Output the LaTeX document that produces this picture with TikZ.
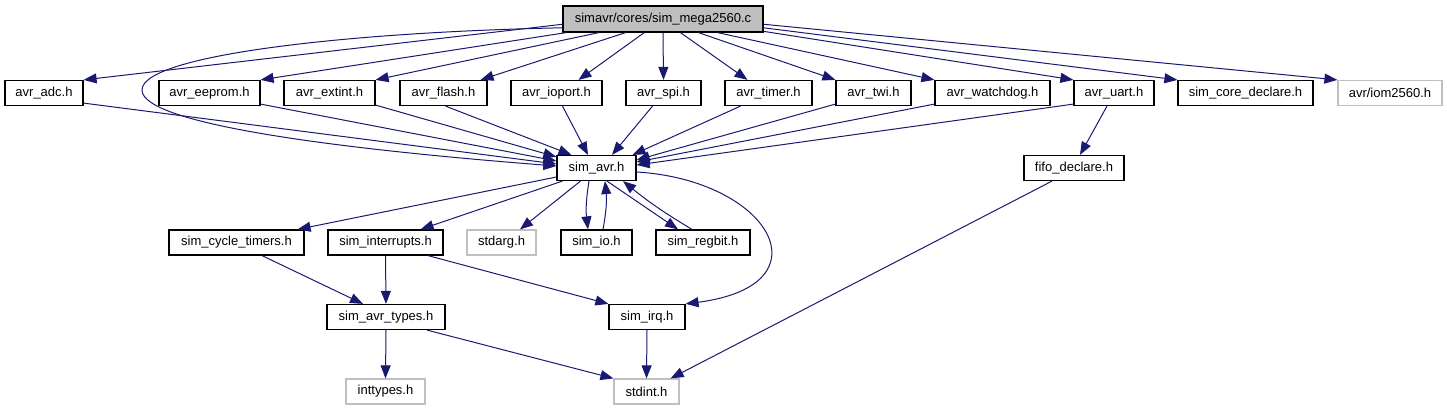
\documentclass[tikz,border=0pt]{standalone}
\usepackage{fontspec}
\setmainfont{Liberation Sans}
\usetikzlibrary{arrows.meta, calc}
\definecolor{cEdge}{RGB}{25,25,112}
\definecolor{cGrey}{RGB}{191,191,191}
\tikzset{
	hdr/.style    ={rectangle, draw=black, line width=0.6pt, minimum height=12.5pt, inner sep=0pt, fill=white, font=\fontsize{6.5}{7.5}\selectfont},
	sysh/.style   ={hdr, draw=cGrey},
	srcfile/.style={hdr, fill=cGrey},
	inc/.style    ={-{Triangle[length=6.5pt,width=5pt]}, cEdge, line width=0.5pt},
}
\begin{document}
\begin{tikzpicture}[x=0.5pt, y=-0.5pt]
	\useasboundingbox (0,0) rectangle (1447,411);
	% source file
	\node[srcfile, minimum width=100pt, minimum height=13pt] (root) at (663,19) {simavr/cores/sim\_mega2560.c};
	% first row of headers
	\node[hdr, minimum width=39pt]   (adc)      at (44,93)     {avr\_adc.h};
	\node[hdr, minimum width=50.5pt] (eeprom)   at (209.5,93)  {avr\_eeprom.h};
	\node[hdr, minimum width=45.5pt] (extint)   at (329.5,93)  {avr\_extint.h};
	\node[hdr, minimum width=43.5pt] (flash)    at (443.5,93)  {avr\_flash.h};
	\node[hdr, minimum width=45.5pt] (ioport)   at (556.5,93)  {avr\_ioport.h};
	\node[hdr, minimum width=37.5pt] (spi)      at (663.5,93)  {avr\_spi.h};
	\node[hdr, minimum width=43.5pt] (timer)    at (768.5,93)  {avr\_timer.h};
	\node[hdr, minimum width=37.5pt] (twi)      at (873.5,93)  {avr\_twi.h};
	\node[hdr, minimum width=57.5pt] (watchdog) at (992.5,93)  {avr\_watchdog.h};
	\node[hdr, minimum width=40pt]   (uart)     at (1114,93)   {avr\_uart.h};
	\node[hdr, minimum width=67.5pt] (coredecl) at (1245.5,93) {sim\_core\_declare.h};
	\node[sysh, minimum width=52pt]  (iom)      at (1390,93)   {avr/iom2560.h};
	% second row
	\node[hdr, minimum width=39.5pt] (avr)  at (596.5,168) {sim\_avr.h};
	\node[hdr, minimum width=50pt]   (fifo) at (1074,168)  {fifo\_declare.h};
	% third row
	\node[hdr, minimum width=67.5pt] (cycle)  at (236.5,242.5) {sim\_cycle\_timers.h};
	\node[hdr, minimum width=57.5pt] (intr)   at (385.5,242.5) {sim\_interrupts.h};
	\node[sysh, minimum width=34.5pt](stdarg) at (501.5,242.5) {stdarg.h};
	\node[hdr, minimum width=35.5pt] (io)     at (596.5,242.5) {sim\_io.h};
	\node[hdr, minimum width=47pt]   (regbit) at (703,242.5)   {sim\_regbit.h};
	% fourth row
	\node[hdr, minimum width=59pt] (types) at (386,317) {sim\_avr\_types.h};
	\node[hdr, minimum width=38pt] (irq)   at (647,317) {sim\_irq.h};
	% system headers
	\node[sysh, minimum width=39.5pt] (inttypes) at (385.5,391.5) {inttypes.h};
	\node[sysh, minimum width=32.5pt] (stdint)   at (646.5,391.5) {stdint.h};

	% source file includes
	\draw[inc] (root.183.5) -- (adc.north east);
	\draw[inc] (root.185) .. controls (350,32) and (142,55) .. (142,90)
		.. controls (142,125) and (350,150) .. ($(avr.west)+(0,-2)$);
	\draw[inc] (root.188) -- (eeprom.north east);
	\draw[inc] (root.192) -- (extint.north east);
	\draw[inc] (root.200) -- ($(flash.north east)+(-7,0)$);
	\draw[inc] (root.216) -- ($(ioport.north)+(22,0)$);
	\draw[inc] (root.270) -- (spi.north);
	\draw[inc] (root.322) -- ($(timer.north)+(-21,0)$);
	\draw[inc] (root.339) -- (twi.north west);
	\draw[inc] (root.346) -- (watchdog.north west);
	\draw[inc] (root.353) -- (uart.north west);
	\draw[inc] (root.355) -- (coredecl.north west);
	\draw[inc] (root.357) -- (iom.north west);

	% avr_*.h -> sim_avr.h
	\draw[inc] ($(adc.south east)+(0,-3)$) -- ($(avr.west)+(0,-4)$);
	\draw[inc] ($(eeprom.south east)+(0,-2)$) -- ($(avr.west)+(0,-7)$);
	\draw[inc] ($(extint.south east)+(0,-1)$) -- ($(avr.north west)+(0,2)$);
	\draw[inc] ($(flash.south)+(2,0)$) -- ($(avr.north west)+(15,0)$);
	\draw[inc] ($(ioport.south)+(6,0)$) -- ($(avr.north)+(-8.5,0)$);
	\draw[inc] ($(spi.south)+(-11,0)$) -- ($(avr.north)+(15.5,0)$);
	\draw[inc] ($(timer.south)+(-28,0)$) -- ($(avr.north east)+(-4,0)$);
	\draw[inc] ($(twi.south west)+(0,-2)$) -- ($(avr.east)+(0,-8)$);
	\draw[inc] ($(watchdog.south west)+(0,-2)$) -- ($(avr.east)+(0,-6)$);
	\draw[inc] ($(uart.south west)+(0,-2)$) -- ($(avr.east)+(0,-3)$);
	\draw[inc] ($(uart.south)+(-7,0)$) -- ($(fifo.north)+(6,0)$);

	% sim_avr.h includes
	\draw[inc] ($(avr.west)+(0,9)$) -- ($(cycle.north east)+(-7,0)$);
	\draw[inc] ($(avr.south west)+(6,0)$) -- ($(intr.north east)+(-23,0)$);
	\draw[inc] ($(avr.south)+(-16,0)$) -- ($(stdarg.north)+(18.5,0)$);
	\draw[inc] ($(avr.south)+(-7.5,0)$) to[bend right=8] ($(io.north)+(-8.5,0)$);
	\draw[inc] ($(io.north)+(6.5,0)$) to[bend right=8] ($(avr.south)+(8.5,0)$);
	\draw[inc] ($(avr.south)+(10.5,0)$) -- ($(regbit.north)+(-25,0)$);
	\draw[inc] ($(regbit.north)+(-11,0)$) to[bend left=4] ($(avr.south)+(26.5,0)$);
	\draw[inc] ($(avr.east)+(0,4)$) .. controls (770,180) and (830,285) .. (irq.north east);

	% lower levels
	\draw[inc] ($(cycle.south)+(25.5,0)$) -- ($(types.north)+(-23,0)$);
	\draw[inc] (intr.south) -- (types.north);
	\draw[inc] ($(intr.south)+(42.5,0)$) -- (irq.north west);
	\draw[inc] (types.south) -- (inttypes.north);
	\draw[inc] ($(types.south)+(41,0)$) -- (stdint.north west);
	\draw[inc] (irq.south) -- (stdint.north);
	\draw[inc] ($(fifo.south)+(-22,0)$) -- ($(stdint.north east)+(-9,0)$);
\end{tikzpicture}
\end{document}
